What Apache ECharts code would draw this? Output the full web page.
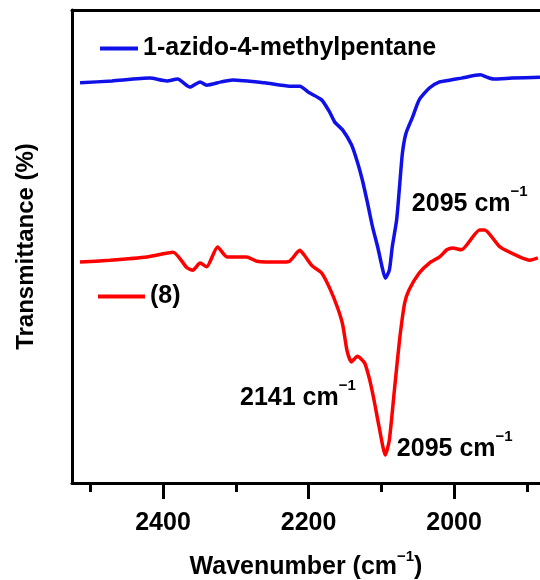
<!DOCTYPE html>
<html>
<head>
<meta charset="utf-8">
<script src="https://cdn.jsdelivr.net/npm/echarts@6/dist/echarts.min.js"></script>
<style>html,body{margin:0;padding:0;background:#fff}#c{width:540px;height:580px}</style>
</head>
<body>
<div id="c"></div>
<script>
// Wavenumber (cm-1) / transmittance (arbitrary %)
const blueName = '1-azido-4-methylpentane';
const redName = '(8)';
const blueWn = [2514,2470,2418,2395,2380,2363,2349,2340,2320,2304,2260,2226,2212,2199,2182,2171,2164,2153,2141,2133,2126,2119,2112,2105,2099,2094.5,2089,2085,2079,2075,2071,2066,2057,2048,2034,2020,2005,1990,1964,1955,1946,1920,1882];
const blueT  = [84.6,85.0,85.6,85.0,85.4,83.7,84.8,84.1,84.8,85.2,84.6,83.9,83.9,82.5,81.0,78.4,76.3,74.6,71.5,67.9,64.0,59.2,54.1,49.9,45.7,43.3,45.0,49.9,55.6,62.6,69.8,74.0,77.4,81.0,83.5,84.8,85.2,85.6,86.3,85.8,85.4,85.6,85.8];
const redWn = [2514,2473,2422,2386,2367,2359,2349,2340,2325,2312,2285,2271,2240,2226,2212,2206,2195,2182,2171,2160,2153,2147,2141,2133,2123,2116,2110,2103,2094.5,2089,2082,2075,2068,2062,2048,2034,2020,2010,2002,1990,1965,1958,1937,1910,1896,1885];
const redT  = [46.7,47.1,47.8,48.8,45.5,45.0,46.5,45.7,49.9,47.8,47.8,46.9,46.7,46.9,49.2,48.2,45.9,44.4,41.2,37.0,33.4,27.9,25.6,26.8,25.4,21.8,17.5,11.8,5.9,9.1,19.7,30.2,38.0,40.8,44.4,46.5,47.8,49.3,49.7,49.3,53.5,53.5,49.9,47.8,47.1,47.6];
const majorTicks = [2400, 2200, 2000];
const minorTicks = [2500, 2300, 2100, 1900];
// annotations: [wavenumber, transmittance, number]
const blueNotes = [[2058.8, 59.0, '2095']];
const redNotes = [[2294.8, 18.0, '2141'], [2079.4, 7.2, '2095']];

const FONT = 'Liberation Sans';
const FS = 25;
const xMin = 1882, xMax = 2525;

function pairs(xs, ys) { return xs.map((x, i) => [x, ys[i]]); }
const rich = {
  a: { fontFamily: FONT, fontWeight: 'bold', fontSize: FS, color: '#000', lineHeight: 40 },
  s: { fontFamily: FONT, fontWeight: 'bold', fontSize: 15, color: '#000', lineHeight: 14, verticalAlign: 'top' }
};
function notes(arr) {
  return arr.map(n => ({
    coord: [n[0], n[1]],
    label: { formatter: '{a|' + n[2] + ' cm}{s|\u22121}' }
  }));
}
const markCommon = {
  symbol: 'circle', symbolSize: 1,
  itemStyle: { color: 'rgba(0,0,0,0)' },
  label: { show: true, position: 'right', distance: 0, rich: rich },
  silent: true
};
const legendText = { fontFamily: FONT, fontWeight: 'bold', fontSize: FS, color: '#000', lineHeight: 24 };

const chart = echarts.init(document.getElementById('c'));
chart.setOption({
  animation: false,
  backgroundColor: '#fff',
  grid: { left: 72, top: 10, right: 0, bottom: 97, containLabel: false, outerBoundsMode: 'none' },
  legend: [
    { data: [blueName], left: 100, top: 36, padding: 0, icon: 'rect', itemWidth: 38, itemHeight: 4, textStyle: legendText },
    { data: [redName], left: 98, top: 284, padding: 0, icon: 'rect', itemWidth: 47, itemHeight: 4, textStyle: legendText }
  ],
  xAxis: [
    { type: 'value', min: xMin, max: xMax, inverse: true, position: 'bottom',
      name: '{n|Wavenumber (cm}{s|\u22121}{n|)}', nameLocation: 'middle', nameGap: 66,
      nameTextStyle: { rich: {
        n: { fontFamily: FONT, fontWeight: 'bold', fontSize: FS, color: '#000', lineHeight: 36 },
        s: { fontFamily: FONT, fontWeight: 'bold', fontSize: 15, color: '#000', lineHeight: 14, verticalAlign: 'top' } } },
      axisLine: { show: true, onZero: false, lineStyle: { color: '#000', width: 3 } },
      axisTick: { show: true, customValues: majorTicks, length: 16, inside: false, lineStyle: { color: '#000', width: 3 } },
      axisLabel: { show: true, customValues: majorTicks, margin: 28, formatter: v => String(v),
        fontFamily: FONT, fontWeight: 'bold', fontSize: FS, color: '#000' },
      splitLine: { show: false }
    },
    { type: 'value', min: xMin, max: xMax, inverse: true, position: 'bottom',
      axisLine: { show: false },
      axisTick: { show: true, customValues: minorTicks, length: 9, lineStyle: { color: '#000', width: 3 } },
      axisLabel: { show: false },
      splitLine: { show: false }
    },
    { type: 'value', min: xMin, max: xMax, inverse: true, position: 'top',
      axisLine: { show: true, onZero: false, lineStyle: { color: '#000', width: 3 } },
      axisTick: { show: false }, axisLabel: { show: false }, splitLine: { show: false }
    }
  ],
  yAxis: {
    type: 'value', min: 0, max: 100,
    name: 'Transmittance (%)', nameLocation: 'middle', nameGap: 34,
    nameTextStyle: { fontFamily: FONT, fontWeight: 'bold', fontSize: 24, color: '#000' },
    axisLine: { show: true, onZero: false, lineStyle: { color: '#000', width: 3 } },
    axisTick: { show: false }, axisLabel: { show: false }, splitLine: { show: false }
  },
  series: [
    { name: blueName, type: 'line', xAxisIndex: 0, data: pairs(blueWn, blueT), showSymbol: false, smooth: 0.2,
      lineStyle: { color: '#1010e8', width: 3.5 }, itemStyle: { color: '#1010e8' },
      markPoint: Object.assign({}, markCommon, { data: notes(blueNotes) }) },
    { name: redName, type: 'line', xAxisIndex: 0, data: pairs(redWn, redT), showSymbol: false, smooth: 0.2,
      lineStyle: { color: '#ff0000', width: 3.5 }, itemStyle: { color: '#ff0000' },
      markPoint: Object.assign({}, markCommon, { data: notes(redNotes) }) }
  ]
});
</script>
</body>
</html>
